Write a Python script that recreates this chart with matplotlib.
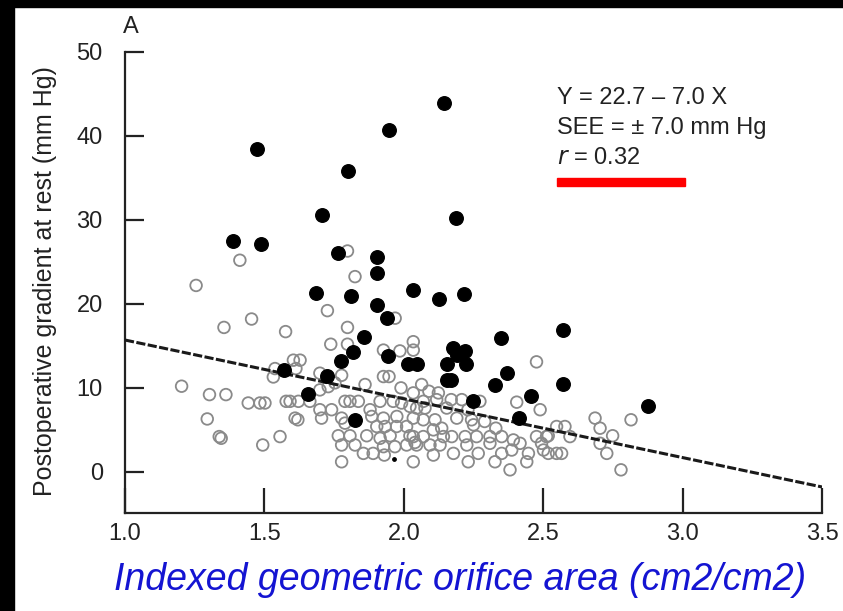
import numpy as np
import matplotlib
matplotlib.use("Agg")
from matplotlib import pyplot as plt
from matplotlib.patches import Rectangle

# open circles (x = indexed orifice area, y = gradient mm Hg)
open_x = [1.203, 1.255, 1.295, 1.303, 1.338, 1.345, 1.355, 1.362, 1.412, 1.442,
          1.454, 1.484, 1.502, 1.494, 1.532, 1.538, 1.556, 1.576, 1.578, 1.592,
          1.604, 1.628, 1.613, 1.622, 1.610, 1.620, 1.663, 1.699, 1.699, 1.699,
          1.705, 1.726, 1.729, 1.738, 1.741, 1.753, 1.765, 1.777, 1.777, 1.777,
          1.777, 1.789, 1.789, 1.798, 1.798, 1.798, 1.807, 1.807, 1.825, 1.825,
          1.837, 1.855, 1.861, 1.867, 1.879, 1.885, 1.890, 1.903, 1.915, 1.915,
          1.927, 1.927, 1.927, 1.927, 1.930, 1.933, 1.947, 1.951, 1.962, 1.968,
          1.969, 1.974, 1.975, 1.986, 1.992, 2.010, 2.010, 2.022, 2.022, 2.034,
          2.034, 2.034, 2.034, 2.034, 2.034, 2.040, 2.046, 2.046, 2.064, 2.070,
          2.070, 2.070, 2.076, 2.094, 2.106, 2.106, 2.112, 2.118, 2.124, 2.130,
          2.136, 2.142, 2.154, 2.172, 2.178, 2.190, 2.208, 2.220, 2.226, 2.231,
          2.243, 2.261, 2.267, 2.273, 2.309, 2.309, 2.327, 2.351, 2.351, 2.381,
          2.387, 2.393, 2.405, 2.417, 2.441, 2.447, 2.476, 2.476, 2.489, 2.494,
          2.501, 2.512, 2.518, 2.518, 2.548, 2.548, 2.566, 2.578, 2.596, 2.686,
          2.704, 2.704, 2.728, 2.749, 2.779, 2.815, 2.170, 2.230, 2.290, 2.330,
          2.250, 1.990, 2.090]
open_y = [10.2, 22.2, 6.3, 9.2, 4.2, 4.0, 17.2, 9.2, 25.2, 8.2,
          18.2, 8.2, 8.2, 3.2, 11.3, 12.3, 4.2, 16.7, 8.4, 8.4,
          13.3, 13.3, 12.3, 8.4, 6.4, 6.2, 8.4, 11.75, 9.76, 7.4,
          6.4, 19.2, 10.15, 15.2, 7.4, 10.6, 4.3, 11.5, 6.4, 3.2,
          1.2, 8.4, 5.8, 26.3, 17.2, 15.2, 8.4, 4.3, 23.25, 3.2,
          8.4, 2.2, 10.4, 4.3, 7.4, 6.6, 2.2, 5.4, 8.4, 4.0,
          14.5, 11.35, 6.4, 3.0, 2.0, 5.4, 11.35, 4.3, 8.4, 3.0,
          18.3, 5.4, 6.6, 14.4, 8.2, 5.4, 3.2, 7.8, 4.3, 15.5,
          14.5, 9.4, 6.4, 1.2, 4.2, 3.5, 7.6, 3.2, 10.4, 8.4,
          6.2, 4.2, 7.6, 3.2, 5.0, 2.0, 6.2, 8.6, 9.4, 3.2,
          5.2, 4.2, 7.6, 4.2, 2.2, 6.4, 8.6, 4.2, 3.2, 1.2,
          6.2, 4.2, 2.2, 8.4, 4.2, 3.4, 1.2, 4.2, 2.2, 0.24,
          2.6, 3.8, 8.3, 3.4, 1.2, 2.2, 4.2, 13.1, 7.4, 3.4,
          2.6, 4.2, 4.3, 2.2, 5.4, 2.2, 2.2, 5.4, 4.2, 6.4,
          5.2, 3.4, 2.2, 4.3, 0.24, 6.2, 8.6, 7.4, 6.0, 5.2,
          5.6, 10.0, 9.6]

# filled circles
fill_x = [1.386, 1.473, 1.487, 1.570, 1.655, 1.684, 1.707, 1.726, 1.765, 1.774,
          1.800, 1.810, 1.819, 1.826, 1.857, 1.905, 1.905, 1.905, 1.938, 1.944,
          1.947, 2.016, 2.046, 2.034, 2.128, 2.144, 2.156, 2.156, 2.168, 2.178,
          2.187, 2.192, 2.217, 2.220, 2.222, 2.249, 2.327, 2.349, 2.369, 2.414,
          2.456, 2.572, 2.572, 2.877]
fill_y = [27.5, 38.4, 27.1, 12.1, 9.3, 21.3, 30.6, 11.4, 26.1, 13.2,
          35.8, 20.9, 14.3, 6.2, 16.1, 25.6, 23.65, 19.9, 18.3, 13.8,
          40.7, 12.9, 12.9, 21.7, 20.6, 43.9, 12.8, 10.9, 10.9, 14.8,
          30.2, 13.9, 21.2, 14.4, 12.9, 8.4, 10.4, 16.0, 11.8, 6.4,
          9.05, 16.9, 10.5, 7.9]

# tiny dot
dot_x = [1.965]
dot_y = [1.5]

# regression Y = 22.7 - 7.0 X
b0, b1 = 22.7, -7.0
fit_x = np.array([1.0, 3.5])

xticks = [1.0, 1.5, 2.0, 2.5, 3.0, 3.5]
yticks = [0, 10, 20, 30, 40, 50]

plt.rcParams['font.family'] = ['Liberation Sans', 'DejaVu Sans']
ink = '#222222'

fig = plt.figure(figsize=(8.43, 6.11), dpi=100)
fig.patch.set_facecolor('white')

# black frame on top and left
fig.patches.append(Rectangle((0, 0), 14 / 843, 1, transform=fig.transFigure,
                             color='black', zorder=0))
fig.patches.append(Rectangle((0, 1 - 7 / 611), 1, 7 / 611, transform=fig.transFigure,
                             color='black', zorder=0))

ax = fig.add_axes([125 / 843, (611 - 513) / 611, 697 / 843, 461 / 611])
ax.set_xlim(1.0, 3.5)
ax.set_ylim(-4.9, 50)

ax.scatter(open_x, open_y, s=70, facecolors='none', edgecolors='#8a8a8a',
           linewidths=1.3, zorder=2)
ax.plot(fit_x, b0 + b1 * fit_x, color='#1a1a1a', lw=2.2,
        linestyle=(0, (3, 0.8)), zorder=3)
ax.scatter(fill_x, fill_y, s=95, color='black', zorder=4)
ax.scatter(dot_x, dot_y, s=6, color='black', zorder=4)

for s in ['top', 'right']:
    ax.spines[s].set_visible(False)
ax.spines['left'].set_bounds(-4.9, 50)
for s in ['left', 'bottom']:
    ax.spines[s].set_linewidth(1.6)
    ax.spines[s].set_color(ink)

ax.set_xticks(xticks)
ax.set_xticklabels(['%.1f' % v for v in xticks])
ax.set_yticks(yticks)
ax.tick_params(axis='x', direction='in', length=18, width=1.6, color=ink,
               labelsize=17, pad=7, labelcolor=ink)
ax.tick_params(axis='y', direction='in', length=14, width=1.6, color=ink,
               labelsize=17, pad=16, labelcolor=ink)

ax.set_ylabel('Postoperative gradient at rest (mm Hg)', fontsize=18, color=ink)
ax.yaxis.set_label_coords(-0.098, 0.503)

fig.text(123 / 843, 1 - 27 / 611, 'A', fontsize=17, color=ink,
         ha='left', va='center')

ax.text(0.62, 0.90, 'Y = 22.7 \u2013 7.0 X', transform=ax.transAxes,
        fontsize=17, color=ink, ha='left', va='center')
ax.text(0.62, 0.835, 'SEE = \u00b1 7.0 mm Hg', transform=ax.transAxes,
        fontsize=17, color=ink, ha='left', va='center')
ax.text(0.62, 0.77, '$r$ = 0.32', transform=ax.transAxes,
        fontsize=17, color=ink, ha='left', va='center')

# red underline
fig.patches.append(Rectangle((557 / 843, 1 - 186 / 611), 128 / 843, 8 / 611,
                             transform=fig.transFigure, color='#ff0000', zorder=5))

fig.text(460 / 843, 1 - 580 / 611, 'Indexed geometric orifice area (cm2/cm2)',
         fontsize=27, style='italic', color='#1414d2', ha='center', va='center')

fig.savefig('out.png', dpi=100)
